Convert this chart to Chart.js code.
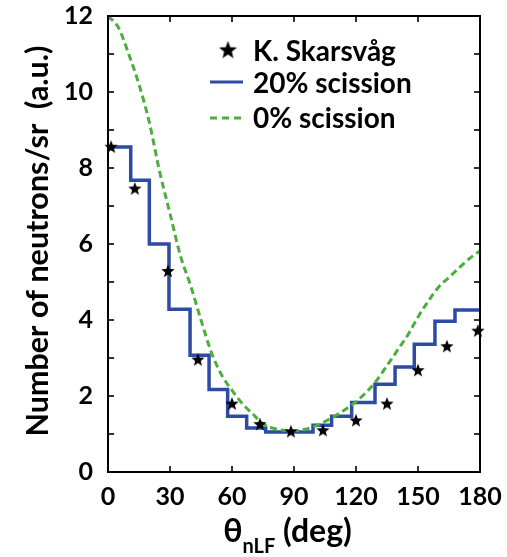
<!DOCTYPE html>
<html><head><meta charset="utf-8">
<script src="https://cdn.jsdelivr.net/npm/chart.js@4/dist/chart.umd.min.js"></script>
<style>html,body{margin:0;padding:0;background:#fff;}#wrap{width:507px;height:557px;position:relative;}</style>
</head><body><div id="wrap"><canvas id="c" width="507" height="557"></canvas></div>
<script>
// ---- data ----
const starAngles = [1.5, 13, 29, 43.5, 60, 73.5, 88.5, 104, 120, 135, 150, 164, 179];
const starValues = [8.56, 7.46, 5.29, 2.96, 1.80, 1.26, 1.07, 1.10, 1.36, 1.80, 2.68, 3.31, 3.72];
const stepEdges  = [0, 11, 20, 29.5, 39.7, 48.9, 57.9, 67.1, 76.3, 99.2, 108.2, 117.9, 129.2, 138.9, 148.2, 158.2, 167.9, 180];
const stepValues = [8.55, 7.68, 6.0, 4.28, 3.07, 2.17, 1.47, 1.16, 1.05, 1.23, 1.47, 1.83, 2.31, 2.76, 3.36, 3.97, 4.26];
const curveAngles = [0,5,10,15,20,25,30,35,40,45,50,55,60,65,70,75,80,85,90,95,100,105,110,115,120,125,130,135,140,145,150,155,160,165,170,175,180];
const curveValues = [12.0,11.7,11.0,10.2,9.2,7.9,6.8,5.7,4.9,4.0,3.15,2.55,2.15,1.8,1.53,1.27,1.15,1.1,1.08,1.12,1.2,1.33,1.48,1.65,1.85,2.1,2.41,2.8,3.2,3.6,4.08,4.5,4.87,5.12,5.38,5.62,5.82];
const xTickLabels = [0, 30, 60, 90, 120, 150, 180];
const yTickLabels = [0, 2, 4, 6, 8, 10, 12];
const seriesNames = ['K. Skarsvåg', '20% scission', '0% scission'];

const BLUE = '#2d4ba3', GREEN = '#4caf3c';
const FONT = 'Lato, "Open Sans", sans-serif';

function makeStar(size) {
  const c = document.createElement('canvas');
  c.width = size; c.height = size;
  const g = c.getContext('2d');
  const R = size / 2, r = R * 0.42;
  g.beginPath();
  for (let i = 0; i < 10; i++) {
    const rad = i % 2 === 0 ? R : r;
    const a = -Math.PI / 2 + i * Math.PI / 5;
    const px = R + rad * Math.cos(a), py = R + 0.5 + rad * Math.sin(a);
    i ? g.lineTo(px, py) : g.moveTo(px, py);
  }
  g.closePath(); g.fillStyle = '#000'; g.fill();
  return c;
}
const starSmall = makeStar(14);
const starBig = makeStar(19);

const framePlugin = {
  id: 'frame',
  afterDraw(chart) {
    const { ctx, chartArea: a, scales: { x, y } } = chart;
    ctx.save();
    ctx.strokeStyle = '#000';
    ctx.lineWidth = 2;
    ctx.strokeRect(a.left, a.top, a.right - a.left, a.bottom - a.top);
    ctx.lineWidth = 1.6;
    const L = 6;
    const ln = (x1, y1, x2, y2) => { ctx.beginPath(); ctx.moveTo(x1, y1); ctx.lineTo(x2, y2); ctx.stroke(); };
    x.ticks.forEach(t => {
      if (t.value <= x.min || t.value >= x.max) return;
      const p = x.getPixelForValue(t.value);
      ln(p, a.bottom, p, a.bottom - L); ln(p, a.top, p, a.top + L);
    });
    y.ticks.forEach(t => {
      if (t.value <= y.min || t.value >= y.max) return;
      const p = y.getPixelForValue(t.value);
      ln(a.left, p, a.left + L, p); ln(a.right, p, a.right - L, p);
    });

    // legend
    ctx.fillStyle = '#000';
    ctx.font = 'bold 28px ' + FONT;
    ctx.textAlign = 'left';
    ctx.textBaseline = 'alphabetic';
    ctx.drawImage(starBig, 228 - 9.5, 50 - 9.5);
    ctx.fillText(seriesNames[0], 253, 61);
    ctx.strokeStyle = BLUE; ctx.lineWidth = 3; ctx.setLineDash([]);
    ln(210, 82, 243, 82);
    ctx.fillText(seriesNames[1], 253, 93);
    ctx.strokeStyle = GREEN; ctx.setLineDash([7, 5]);
    ln(210, 118, 243, 118);
    ctx.setLineDash([]);
    ctx.fillText(seriesNames[2], 253, 128);

    // x title with subscript
    const f1 = 'bold 32px ' + FONT, f2 = 'bold 20px ' + FONT;
    ctx.font = f1; const w1 = ctx.measureText('θ').width; const w3 = ctx.measureText(' (deg)').width;
    ctx.font = f2; const w2 = ctx.measureText('nLF').width;
    let sx = 287.5 - (w1 + w2 + w3) / 2;
    ctx.font = f1; ctx.fillText('θ', sx, 542); sx += w1;
    ctx.font = f2; ctx.fillText('nLF', sx, 553); sx += w2;
    ctx.font = f1; ctx.fillText(' (deg)', sx, 542);

    // y title
    ctx.translate(38, 241);
    ctx.rotate(-Math.PI / 2);
    ctx.textAlign = 'center';
    ctx.textBaseline = 'middle';
    ctx.font = 'bold 30.5px ' + FONT;
    ctx.fillText('Number of neutrons/sr  (a.u.)', 0, 0);
    ctx.restore();
  }
};

function zeroPad(s) { s.paddingTop = 0; s.paddingBottom = 0; s.paddingLeft = 0; s.paddingRight = 0; }

new Chart(document.getElementById('c'), {
  type: 'line',
  data: {
    datasets: [
      {
        label: seriesNames[0],
        data: starAngles.map((a, i) => ({ x: a, y: starValues[i] })),
        showLine: false,
        pointStyle: starSmall,
        pointRadius: 7,
        clip: false,
        order: 0
      },
      {
        label: seriesNames[1],
        data: stepEdges.map((e, i) => ({ x: e, y: stepValues[Math.min(i, stepValues.length - 1)] })),
        stepped: 'before',
        borderColor: BLUE,
        borderWidth: 3.5,
        pointRadius: 0,
        fill: false,
        order: 2
      },
      {
        label: seriesNames[2],
        data: curveAngles.map((a, i) => ({ x: a, y: curveValues[i] })),
        borderColor: GREEN,
        borderWidth: 3,
        borderDash: [7, 4],
        pointRadius: 0,
        cubicInterpolationMode: 'monotone',
        fill: false,
        order: 1
      }
    ]
  },
  options: {
    responsive: false,
    animation: false,
    devicePixelRatio: 1,
    layout: { padding: { left: 0, top: 16, right: 27, bottom: 0 } },
    plugins: { legend: { display: false }, tooltip: { enabled: false } },
    scales: {
      x: {
        type: 'linear', min: 0, max: 180,
        afterFit(s) { s.height = 85; zeroPad(s); },
        grid: { display: false, drawTicks: false },
        border: { display: false },
        ticks: {
          stepSize: 30, padding: 10, color: '#000',
          font: { family: FONT, size: 25, weight: 'bold' },
          callback: v => xTickLabels.includes(v) ? String(v) : ''
        }
      },
      y: {
        type: 'linear', min: 0, max: 12,
        afterFit(s) { s.width = 108; zeroPad(s); },
        grid: { display: false, drawTicks: false },
        border: { display: false },
        ticks: {
          stepSize: 1, padding: 15, color: '#000',
          font: { family: FONT, size: 25, weight: 'bold' },
          callback: v => yTickLabels.includes(v) ? String(v) : ''
        }
      }
    }
  },
  plugins: [framePlugin]
});
</script>
</body></html>
